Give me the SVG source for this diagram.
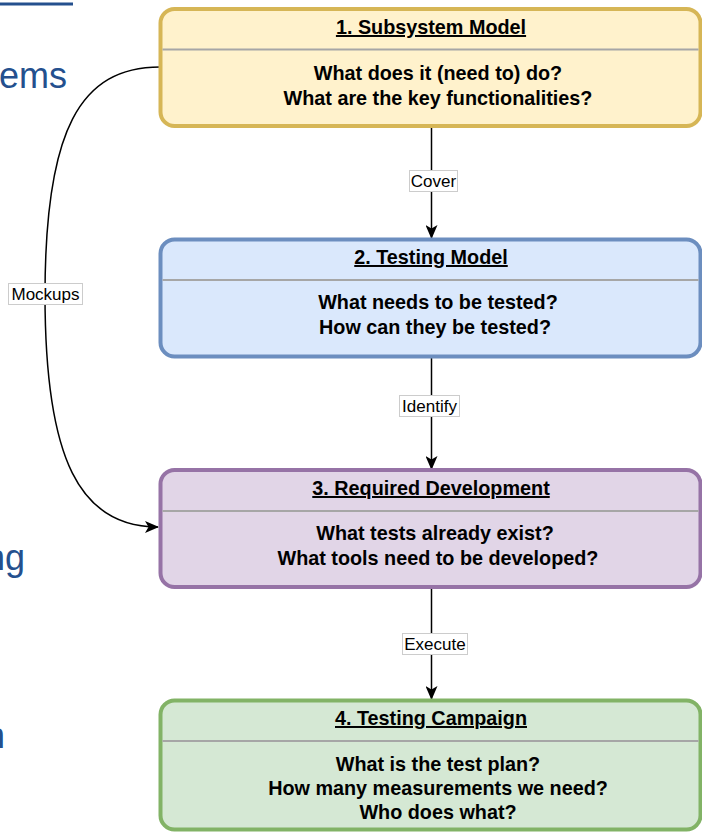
<svg xmlns="http://www.w3.org/2000/svg" width="702" height="832" viewBox="0 0 702 832">
<style>
.bg{font-family:"Liberation Sans",Arial,sans-serif;fill:#24508e;font-size:36px}
.title{font-family:"Liberation Sans",Arial,sans-serif;font-weight:bold;font-size:19.8px;fill:#000;text-anchor:middle;text-decoration:underline}
.body{font-family:"Liberation Sans",Arial,sans-serif;font-weight:bold;font-size:19.8px;fill:#000;text-anchor:middle}
.lbl{font-family:"Liberation Sans",Arial,sans-serif;font-size:17px;fill:#000;text-anchor:middle}
.lblbox{fill:#fff;stroke:#cccccc;stroke-width:1}
.edge{fill:none;stroke:#000;stroke-width:1.5}
.sep{stroke:#a6a6a6;stroke-width:2}
</style>
<defs>
<marker id="arr" markerUnits="userSpaceOnUse" markerWidth="14" markerHeight="12" viewBox="0 0 14 12" refX="13" refY="6" orient="auto">
<path d="M0,0 L14,6 L0,12 L3.5,6 Z" fill="#000"/>
</marker>
</defs>
<rect width="702" height="832" fill="#fff"/>
<g id="background-text">
<line x1="0" y1="4" x2="73" y2="4" stroke="#24508e" stroke-width="3"/>
<text class="bg" x="-1" y="88">ems</text>
<text class="bg" x="25" y="570" text-anchor="end">ng</text>
<text class="bg" x="5" y="748" text-anchor="end">n</text>
</g>
<g id="connectors">
<line class="edge" x1="431.5" y1="127" x2="431.5" y2="238" marker-end="url(#arr)"/>
<line class="edge" x1="431.5" y1="357" x2="431.5" y2="469" marker-end="url(#arr)"/>
<line class="edge" x1="431.5" y1="588" x2="431.5" y2="699" marker-end="url(#arr)"/>
<path class="edge" d="M160,67 C80,67 45,130 45,295 C45,460 80,527 158,527" marker-end="url(#arr)"/>
<g id="label-cover"><rect class="lblbox" x="409.5" y="170.5" width="48" height="21"/><text class="lbl" x="433.5" y="186.5">Cover</text></g>
<g id="label-identify"><rect class="lblbox" x="399.5" y="395.5" width="60" height="21"/><text class="lbl" x="429.5" y="411.5">Identify</text></g>
<g id="label-execute"><rect class="lblbox" x="402.5" y="633.5" width="65" height="21"/><text class="lbl" x="435" y="649.5">Execute</text></g>
<g id="label-mockups"><rect class="lblbox" x="8.5" y="283.5" width="74" height="21"/><text class="lbl" x="45.5" y="299.5">Mockups</text></g>
</g>
<g id="node1">
<rect x="160.5" y="9" width="540" height="117" rx="14" fill="#fff2cc" stroke="#d6b656" stroke-width="4"/>
<line class="sep" x1="162.5" y1="49.5" x2="698.5" y2="49.5"/>
<text class="title" x="431" y="34">1. Subsystem Model</text>
<text class="body" x="438" y="80">What does it (need to) do?</text>
<text class="body" x="438" y="105">What are the key functionalities?</text>
</g>
<g id="node2">
<rect x="160.5" y="239.5" width="540" height="117" rx="14" fill="#dae8fc" stroke="#6c8ebf" stroke-width="4"/>
<line class="sep" x1="162.5" y1="280" x2="698.5" y2="280"/>
<text class="title" x="431" y="264">2. Testing Model</text>
<text class="body" x="438" y="309">What needs to be tested?</text>
<text class="body" x="435" y="334">How can they be tested?</text>
</g>
<g id="node3">
<rect x="160.5" y="470" width="540" height="117" rx="14" fill="#e1d5e7" stroke="#9673a6" stroke-width="4"/>
<line class="sep" x1="162.5" y1="511" x2="698.5" y2="511"/>
<text class="title" x="431" y="495">3. Required Development</text>
<text class="body" x="435" y="540">What tests already exist?</text>
<text class="body" x="438" y="565">What tools need to be developed?</text>
</g>
<g id="node4">
<rect x="160.5" y="700.5" width="540" height="129" rx="14" fill="#d5e8d4" stroke="#82b366" stroke-width="4"/>
<line class="sep" x1="162.5" y1="741" x2="698.5" y2="741"/>
<text class="title" x="431" y="725">4. Testing Campaign</text>
<text class="body" x="438" y="771">What is the test plan?</text>
<text class="body" x="438" y="795">How many measurements we need?</text>
<text class="body" x="438" y="819">Who does what?</text>
</g>
</svg>
